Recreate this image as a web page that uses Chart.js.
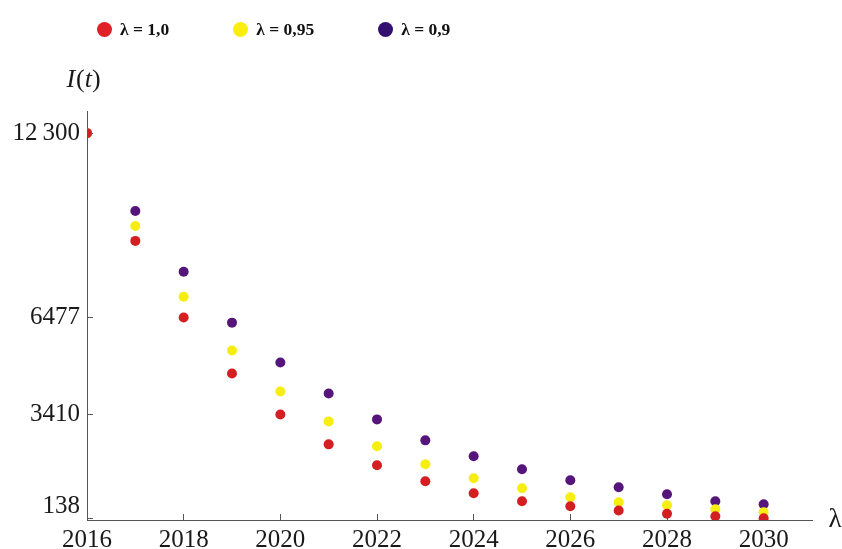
<!DOCTYPE html>
<html>
<head>
<meta charset="utf-8">
<script src="https://cdn.jsdelivr.net/npm/chart.js@4.4.1/dist/chart.umd.min.js"></script>
<style>
  html, body { margin: 0; padding: 0; background: #fff; }
  #wrap { position: relative; width: 842px; height: 549px; }
  #myChart { display: block; }
  #legend {
    position: absolute; left: 97px; top: 19px;
    display: flex; gap: 64px;
    font: bold 17.5px "Liberation Serif", serif; color: #111;
  }
  #legend .item { display: flex; align-items: center; }
  #legend .dot { width: 15px; height: 15px; border-radius: 50%; margin-right: 8px; }
</style>
</head>
<body>
<div id="wrap">
  <canvas id="myChart" width="842" height="549"></canvas>
  <div id="legend"></div>
</div>
<script>
// years on the x axis
let years = [2016, 2017, 2018, 2019, 2020, 2021, 2022, 2023, 2024, 2025, 2026, 2027, 2028, 2029, 2030];

// I(t) for each lambda
let lambda10 = [12300, 8897, 6477, 4707, 3410, 2470, 1808, 1304, 926, 674, 517, 380, 280, 200, 138];
let lambda095 = [12300, 9370, 7133, 5432, 4140, 3195, 2407, 1840, 1399, 1084, 800, 643, 548, 422, 328];
let lambda09 = [12300, 9843, 7921, 6314, 5054, 4077, 3258, 2596, 2092, 1682, 1336, 1115, 895, 674, 580];

let seriesNames = ['λ = 1,0', 'λ = 0,95', 'λ = 0,9'];
let seriesColors = ['#d41f22', '#f6ee10', '#55157a'];
let legendColors = ['#e02128', '#fbee0c', '#331070'];

let xTicks = [2016, 2018, 2020, 2022, 2024, 2026, 2028, 2030];
let yTicks = [138, 3410, 6477, 12300];
let yTickLabels = ['138', '3410', '6477', '12\u2009300'];

function points(values) {
    return values.map((v, i) => ({ x: years[i], y: v }));
}

const allSeries = [lambda10, lambda095, lambda09];

const data = {
    datasets: allSeries.map((vals, i) => ({
        label: seriesNames[i],
        data: points(vals),
        backgroundColor: seriesColors[i],
        borderWidth: 0,
        pointRadius: 5,
        pointHoverRadius: 5
    }))
};

// legend as html
const legend = document.getElementById('legend');
seriesNames.forEach((name, i) => {
    const item = document.createElement('div');
    item.className = 'item';
    const dot = document.createElement('span');
    dot.className = 'dot';
    dot.style.background = legendColors[i];
    const txt = document.createElement('span');
    txt.textContent = name;
    item.appendChild(dot);
    item.appendChild(txt);
    legend.appendChild(item);
});

// I(t) above the y axis and lambda at the end of the x axis
const axisTitles = {
    id: 'axisTitles',
    afterDraw(chart) {
        const { ctx, chartArea } = chart;
        ctx.save();
        ctx.fillStyle = '#1a1a1a';
        ctx.textBaseline = 'middle';
        ctx.textAlign = 'left';
        const parts = [['I', 'italic'], ['(', ''], ['t', 'italic'], [')', '']];
        let w = 0;
        parts.forEach(p => {
            ctx.font = (p[1] ? p[1] + ' ' : '') + '26px "Liberation Serif"';
            w += ctx.measureText(p[0]).width;
        });
        let x = chartArea.left - 4 - w / 2;
        const y = chartArea.top - 31;
        parts.forEach(p => {
            ctx.font = (p[1] ? p[1] + ' ' : '') + '26px "Liberation Serif"';
            ctx.fillText(p[0], x, y);
            x += ctx.measureText(p[0]).width + (p[0] === 'I' ? 1 : 0);
        });
        ctx.textAlign = 'center';
        ctx.font = '27px "Liberation Serif"';
        ctx.fillText('λ', chartArea.right + 23, chartArea.bottom);
        ctx.restore();
    }
};

const config = {
    type: 'scatter',
    data: data,
    plugins: [axisTitles],
    options: {
        responsive: false,
        animation: false,
        layout: { padding: { top: 111, right: 30, bottom: 0, left: 0 } },
        plugins: {
            legend: { display: false },
            tooltip: { enabled: false }
        },
        scales: {
            x: {
                type: 'linear',
                min: 2016,
                max: 2031,
                afterBuildTicks: (scale) => { scale.ticks = xTicks.map(v => ({ value: v })); },
                afterFit: (scale) => { scale.height = 29; },
                grid: { drawOnChartArea: false, drawTicks: true, tickLength: -6, color: '#555' },
                border: { display: true, color: '#555', width: 1 },
                ticks: {
                    padding: 11,
                    color: '#1a1a1a',
                    font: { family: 'Liberation Serif', size: 25 },
                    maxRotation: 0,
                    callback: (v) => String(v)
                }
            },
            y: {
                type: 'linear',
                min: 80,
                max: 13000,
                afterBuildTicks: (scale) => { scale.ticks = yTicks.map(v => ({ value: v })); },
                afterFit: (scale) => {
                    scale.width = 87;
                    scale.paddingTop = 0;
                    scale.paddingBottom = 0;
                },
                grid: { drawOnChartArea: false, drawTicks: true, tickLength: -6, color: '#555' },
                border: { display: true, color: '#555', width: 1 },
                ticks: {
                    padding: 13,
                    color: '#1a1a1a',
                    font: { family: 'Liberation Serif', size: 25, lineHeight: 0.9 },
                    callback: (v) => {
                        const lbl = yTickLabels[yTicks.indexOf(v)];
                        // lift the lowest label off the x axis, as in the original
                        return v === 138 ? [lbl, ''] : lbl;
                    }
                }
            }
        }
    }
};

let myChart = new Chart(document.getElementById('myChart'), config);
</script>
</body>
</html>
